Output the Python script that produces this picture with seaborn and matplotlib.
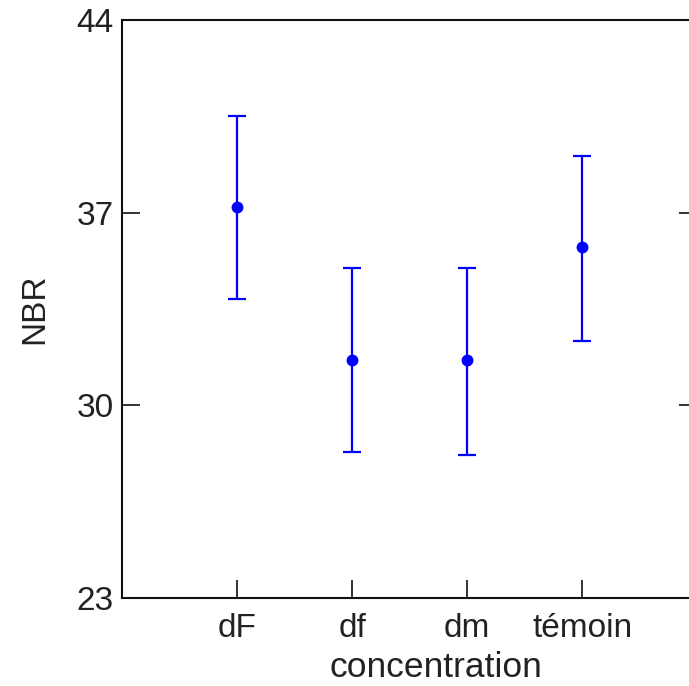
import numpy as np
import pandas as pd
import matplotlib
matplotlib.use("Agg")
import matplotlib.pyplot as plt
import seaborn as sns

# data
concentration = ["dF", "df", "dm", "témoin"]
nbr_mean = [37.2, 31.65, 31.65, 35.75]
nbr_low = [33.85, 28.3, 28.2, 32.35]
nbr_high = [40.5, 35.0, 35.0, 39.05]

df = pd.DataFrame({"concentration": concentration, "NBR": nbr_mean})

sns.set_style("white")
plt.rcParams["font.family"] = ["Liberation Sans", "DejaVu Sans"]

fig = plt.figure(figsize=(6.89, 6.86), dpi=100)
ax = fig.add_axes([0.177, 0.128, 0.835, 0.843])

# intervals
yerr = np.array([np.array(nbr_mean) - np.array(nbr_low),
                 np.array(nbr_high) - np.array(nbr_mean)])
ax.errorbar(range(len(concentration)), nbr_mean, yerr=yerr, fmt="none",
            ecolor="blue", elinewidth=1.6, capsize=6.5, capthick=1.6, zorder=2)

# means
sns.pointplot(data=df, x="concentration", y="NBR", order=concentration,
              color="blue", errorbar=None, linestyle="none",
              markers="o", markersize=6.5, ax=ax, zorder=3)

ax.set_xlim(-1, 4)
ax.set_ylim(23, 44)
ax.set_yticks([23, 30, 37, 44])
ax.tick_params(direction="in", length=13, width=1.2, color="#111111",
               labelsize=24, labelcolor="#222222", pad=6,
               right=True, bottom=True, left=True, top=False)
ax.tick_params(axis="x", pad=11)
for s in ax.spines.values():
    s.set_color("#111111")
    s.set_linewidth(1.5)

ax.set_xlabel("concentration", fontsize=25.5, color="#222222")
ax.set_ylabel("NBR", fontsize=24, color="#222222")
ax.xaxis.set_label_coords(0.546, -0.092)
ax.yaxis.set_label_coords(-0.125, 0.5)

fig.savefig("out.png", dpi=100)
